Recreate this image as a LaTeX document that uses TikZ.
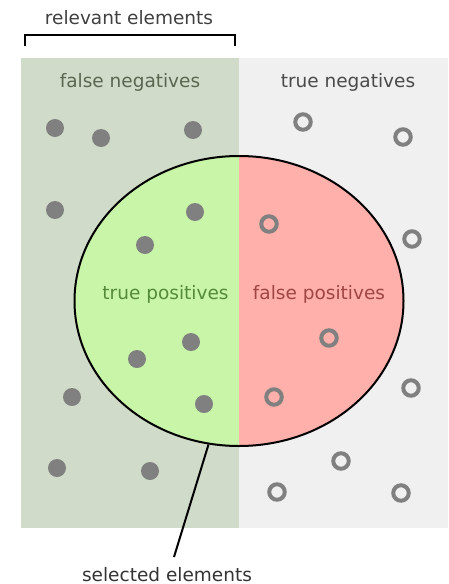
\documentclass[tikz,border=0pt]{standalone}
\usepackage{fontspec}
\setmainfont{DejaVu Sans}
\usetikzlibrary{shapes.geometric}
\definecolor{sage}{HTML}{D0DCC9}
\definecolor{lightbg}{HTML}{F0F0F0}
\definecolor{tpfill}{HTML}{C8F5A8}
\definecolor{fpfill}{HTML}{FFB0AA}
\definecolor{dotgray}{HTML}{808080}
\definecolor{fntext}{HTML}{5A6650}
\definecolor{tntext}{HTML}{4A4A4A}
\definecolor{tptext}{HTML}{558A38}
\definecolor{fptext}{HTML}{A04545}
\tikzset{
  lbl/.style={anchor=base, inner sep=0pt, font=\fontsize{18.5}{22}\selectfont},
  fulldot/.style={circle, fill=dotgray, inner sep=0pt, minimum size=18pt},
  ringdot/.style={circle, draw=dotgray, line width=4pt, inner sep=0pt, minimum size=15.5pt},
  selbox/.style={ellipse, draw=black, line width=2pt, inner sep=0pt, minimum width=329pt, minimum height=290pt},
}
\begin{document}
\begin{tikzpicture}[x=1pt,y=-1pt]
\useasboundingbox (0,0) rectangle (448,584);
% backgrounds
\fill[sage] (21,58) rectangle (239,528);
\fill[lightbg] (239,58) rectangle (448,528);
% ellipse halves
\begin{scope}
  \clip (239,301) ellipse [x radius=164.5pt, y radius=145pt];
  \fill[tpfill] (70,150) rectangle (239,452);
  \fill[fpfill] (239,150) rectangle (410,452);
\end{scope}
\node[selbox] (sel) at (239,301) {};
% bracket
\draw[line width=2pt] (25,46) -- (25,35) -- (235,35) -- (235,46);
% labels
\node[lbl, text=black!75] (rel) at (129,24) {relevant elements};
\node[lbl, text=fntext] (fn) at (130,87.5) {false negatives};
\node[lbl, text=tntext] (tn) at (348,87.5) {true negatives};
\node[lbl, text=tptext] (tp) at (165.5,299) {true positives};
\node[lbl, text=fptext] (fp) at (319,299) {false positives};
\node[lbl, text=black!80] (selt) at (167,581) {selected elements};
% leader
\coordinate (leadend) at (174,557);
\draw[line width=2pt] (sel.258) -- (leadend);
% relevant dots
\node[fulldot] (r1) at (55,128) {};
\node[fulldot] (r2) at (101,138) {};
\node[fulldot] (r3) at (193,130) {};
\node[fulldot] (r4) at (55,210) {};
\node[fulldot] (r5) at (195,212) {};
\node[fulldot] (r6) at (145,245) {};
\node[fulldot] (r7) at (191,342) {};
\node[fulldot] (r8) at (137,359) {};
\node[fulldot] (r9) at (204,404) {};
\node[fulldot] (r10) at (72,397) {};
\node[fulldot] (r11) at (57,468) {};
\node[fulldot] (r12) at (150,471) {};
% irrelevant rings
\node[ringdot] (n1) at (303,122) {};
\node[ringdot] (n2) at (403,137) {};
\node[ringdot] (n3) at (269,224) {};
\node[ringdot] (n4) at (412,239) {};
\node[ringdot] (n5) at (329,338) {};
\node[ringdot] (n6) at (274,397) {};
\node[ringdot] (n7) at (411,388) {};
\node[ringdot] (n8) at (341,461) {};
\node[ringdot] (n9) at (277,492) {};
\node[ringdot] (n10) at (401,493) {};
\end{tikzpicture}
\end{document}
